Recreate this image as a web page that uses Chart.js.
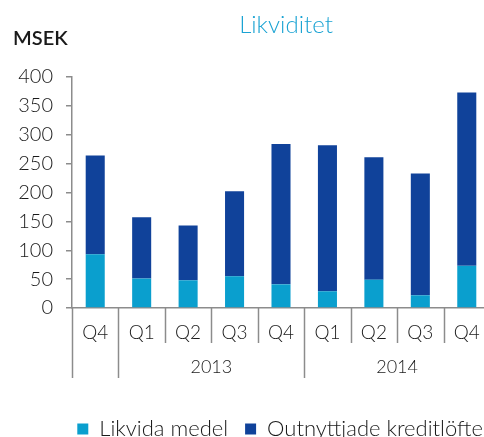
<!DOCTYPE html>
<html>
<head>
<meta charset="utf-8">
<script src="https://cdn.jsdelivr.net/npm/chart.js@4.4.1/dist/chart.umd.min.js"></script>
<style>
  html, body { margin: 0; padding: 0; background: #fff; overflow: hidden; }
  #wrap { width: 568px; height: 450px; }
</style>
</head>
<body>
<div id="wrap"><canvas id="chart" width="568" height="450"></canvas></div>
<script>
// kvartal och år
const categories = ['Q4', 'Q1', 'Q2', 'Q3', 'Q4', 'Q1', 'Q2', 'Q3', 'Q4'];
const yearLabels = ['2013', '2014'];
const yearStart = [1, 5]; // index där varje år börjar

// MSEK
const likvidaMedel = [93, 51, 48, 55, 41, 29, 49, 22, 73];
const outnyttjade = [171, 106, 95, 147, 243, 253, 212, 211, 300];

const yTicks = [0, 50, 100, 150, 200, 250, 300, 350, 400];

const FONT = 'Lato, "Open Sans", sans-serif';
const AXIS = '#8c8c8c';
const TEXT = '#1a1a1a';

// titel, MSEK, avdelare och årsetiketter
const decor = {
  id: 'decor',
  afterDraw(chart) {
    const ctx = chart.ctx;
    const x = chart.scales.x;
    const area = chart.chartArea;
    const n = categories.length;
    const half = (x.getPixelForTick(1) - x.getPixelForTick(0)) / 2;
    const edge = i => i === 0 ? x.getPixelForTick(0) - half
      : i === n ? x.getPixelForTick(n - 1) + half
      : (x.getPixelForTick(i - 1) + x.getPixelForTick(i)) / 2;

    ctx.save();
    ctx.fillStyle = '#1ba3d3';
    ctx.font = '300 24px ' + FONT;
    ctx.textAlign = 'center';
    ctx.textBaseline = 'middle';
    ctx.fillText('Likviditet', area.left + 214, 25);

    ctx.fillStyle = TEXT;
    ctx.font = '600 20px ' + FONT;
    ctx.textAlign = 'left';
    ctx.fillText('MSEK', 13, 39);

    ctx.strokeStyle = AXIS;
    ctx.lineWidth = 1.5;
    for (let i = 0; i <= n; i++) {
      const long = i === 0 || i === n || yearStart.includes(i);
      const bx = Math.round(edge(i)) + 0.5;
      ctx.beginPath();
      ctx.moveTo(bx, area.bottom);
      ctx.lineTo(bx, area.bottom + (long ? 70 : 35));
      ctx.stroke();
    }

    ctx.fillStyle = TEXT;
    ctx.font = '300 18px ' + FONT;
    ctx.textAlign = 'center';
    yearLabels.forEach((lbl, k) => {
      const a = edge(yearStart[k]);
      const b = edge(k + 1 < yearStart.length ? yearStart[k + 1] : n);
      ctx.fillText(lbl, (a + b) / 2, area.bottom + 59);
    });
    ctx.restore();
  }
};

new Chart(document.getElementById('chart'), {
  type: 'bar',
  data: {
    labels: categories,
    datasets: [
      { label: 'Likvida medel', data: likvidaMedel, backgroundColor: '#0a9fce' },
      { label: 'Outnyttjade kreditlöfter', data: outnyttjade, backgroundColor: '#10429a' }
    ]
  },
  options: {
    responsive: false,
    devicePixelRatio: 1,
    animation: false,
    layout: { padding: { top: 77, left: 0, right: 0, bottom: 0 } },
    datasets: { bar: { categoryPercentage: 1, barPercentage: 0.41 } },
    scales: {
      x: {
        stacked: true,
        grid: { display: false, drawTicks: false },
        border: { display: true, color: AXIS, width: 1.5 },
        ticks: { color: TEXT, font: { family: FONT, size: 19, weight: 300 }, padding: 13, maxRotation: 0, autoSkip: false },
        afterFit: s => { s.height = 93; }
      },
      y: {
        stacked: true,
        min: 0,
        max: 400,
        afterBuildTicks: s => { s.ticks = yTicks.map(v => ({ value: v })); },
        grid: { drawOnChartArea: false, tickLength: 6, color: AXIS, lineWidth: 1.5 },
        border: { display: true, color: AXIS, width: 1.5 },
        ticks: { color: TEXT, font: { family: FONT, size: 20, weight: 300 }, padding: 13 },
        afterFit: s => { s.width = 72; }
      },
      spacer: {
        type: 'linear',
        position: 'right',
        grid: { display: false, drawTicks: false },
        border: { display: false },
        ticks: { display: false },
        afterFit: s => { s.width = 78; }
      }
    },
    plugins: {
      title: { display: false },
      tooltip: { enabled: false },
      legend: {
        position: 'bottom',
        labels: {
          color: TEXT,
          font: { family: FONT, size: 22, weight: 300 },
          boxWidth: 11,
          boxHeight: 11,
          padding: 17
        }
      }
    }
  },
  plugins: [decor]
});
</script>
</body>
</html>
